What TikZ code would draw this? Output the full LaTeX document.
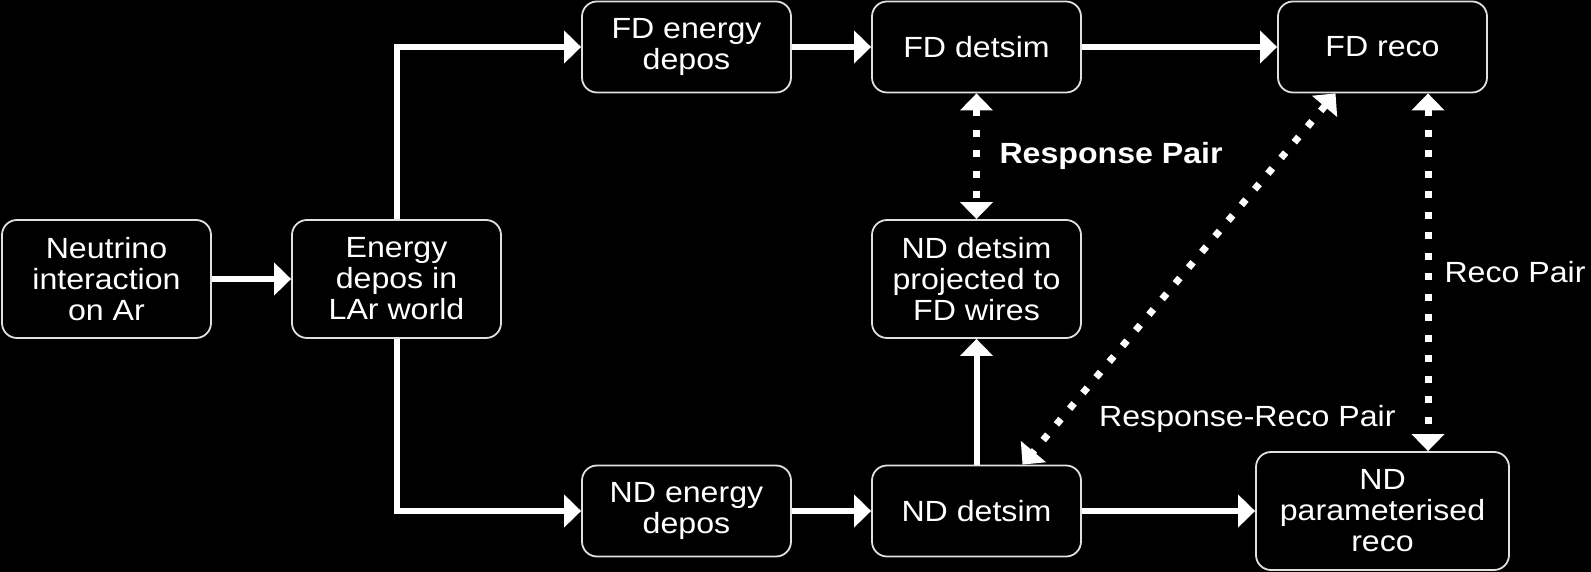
\documentclass[tikz,border=0pt]{standalone}
\usepackage{fontspec}
\setmainfont{Liberation Sans}[FakeStretch=1.1]
\usetikzlibrary{arrows.meta}
\newcommand{\flowfont}{\fontsize{14.6pt}{15.5pt}\selectfont}

\begin{document}
\begin{tikzpicture}[node distance=145pt,
  box/.style={draw=white!88!black, line width=0.9pt, rounded corners=7.5pt,
    text=white, align=center, inner sep=0pt,
    minimum width=104.5pt, minimum height=45.5pt, font=\flowfont},
  tallbox/.style={box, minimum height=59pt},
  flow/.style={white, line width=3pt, -{Triangle[length=8.5pt,width=16pt]}},
  pair/.style={white, line width=3.5pt, dash pattern=on 3.5pt off 6.75pt,
    {Triangle[length=8.5pt,width=16pt]}-{Triangle[length=8.5pt,width=16pt]}},
  lbl/.style={text=white, font=\flowfont, inner sep=3pt}]
 % \draw[help lines] (0,0) grid (3,2);
  \path[use as bounding box, fill=black] (-53.25pt,-146.5pt) rectangle (742.25pt,139.5pt);
  \node[tallbox] (nu)                                              {Neutrino\\interaction\\on Ar};
  \node[tallbox] (lar)    [right of=nu]                            {Energy\\depos in\\LAr world};
  \node[tallbox] (ndproj) [node distance=290pt, right of=lar]      {ND detsim\\projected to\\FD wires};
  \node[box]     (fdsim)  [node distance=116pt, above of=ndproj]   {FD detsim};
  \node[box]     (ndsim)  [node distance=116pt, below of=ndproj]   {ND detsim};
  \node[box]     (fdedep) [left of=fdsim]                          {FD energy\\depos};
  \node[box]     (ndedep) [left of=ndsim]                          {ND energy\\depos};
  \node[box]     (fdreco) [node distance=203pt, right of=fdsim]    {FD reco};
  \node[tallbox, minimum width=126.5pt] (ndreco) [node distance=203pt, right of=ndsim] {ND\\parameterised\\reco};
  \path[flow] (nu)     edge (lar)
              (fdedep) edge (fdsim)
              (fdsim)  edge (fdreco)
              (ndedep) edge (ndsim)
              (ndsim)  edge (ndreco)
              (ndsim)  edge (ndproj);
  \draw[flow] (lar.north) |- (fdedep.west);
  \draw[flow] (lar.south) |- (ndedep.west);
  \path[pair] (fdsim) edge node[lbl, right, xshift=6.75pt, font=\flowfont\bfseries] {Response Pair} (ndproj)
              ([xshift=-23.5pt]fdreco.south) edge node[lbl, pos=0.878, anchor=west, xshift=14.5pt] {Response-Reco Pair} ([xshift=23pt]ndsim.north)
              ([xshift=22.75pt]fdreco.south) edge node[lbl, right, xshift=3.5pt] {Reco Pair} ([xshift=22.75pt]ndreco.north);
 \end{tikzpicture}
\end{document}
